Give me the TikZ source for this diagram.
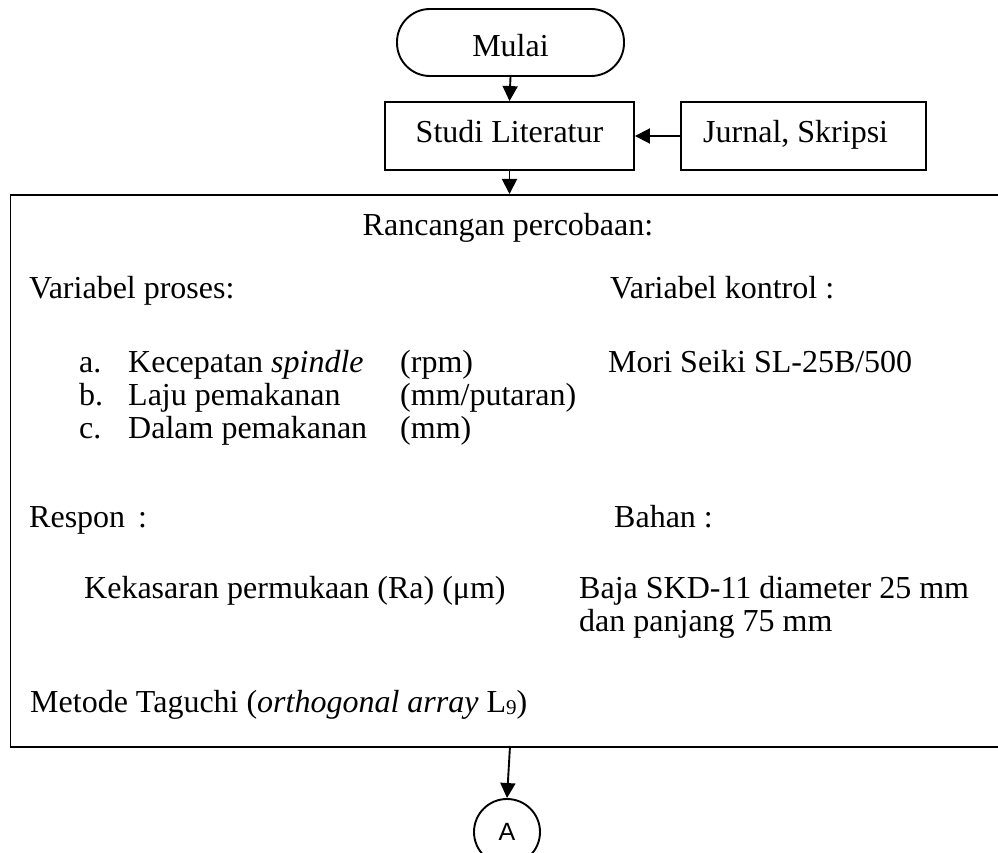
\documentclass[tikz,border=0pt]{standalone}
\usepackage{fontspec}
\setmainfont{Liberation Serif}
\newfontfamily\sansA{Liberation Sans}
\usetikzlibrary{arrows.meta}
\begin{document}
\begin{tikzpicture}[x=1pt,y=-1pt,
  box/.style={draw, line width=1.9pt, inner sep=0pt},
  txt/.style={anchor=base west, inner sep=0pt, font=\fontsize{32}{38}\selectfont},
  ctxt/.style={anchor=base, inner sep=0pt, font=\fontsize{32}{38}\selectfont},
  arr/.style={line width=1.9pt, -{Triangle[length=15pt,width=15pt]}}]
\useasboundingbox (0,0) rectangle (998,853);
% flow boxes
\node[box, rounded corners=33pt, minimum width=227pt, minimum height=67pt] (mulai) at (510.5,42.5) {};
\node[ctxt] (mulaiT) at (510.5,57) {Mulai};
\node[box, minimum width=249pt, minimum height=68pt] (studi) at (509.5,136) {};
\node[ctxt] (studiT) at (509.5,143) {Studi Literatur};
\node[box, minimum width=245pt, minimum height=68pt] (jurnal) at (803.5,136) {};
\node[txt] (jurnalT) at (703,143) {Jurnal, Skripsi};
\node[box, anchor=north west, minimum width=1010pt, minimum height=552pt] (design) at (9.5,194) {};
\node[circle, draw, line width=1.9pt, minimum size=66pt, inner sep=0pt, font=\sansA\fontsize{25}{30}\selectfont] (A) at (507,832) {A};
% connectors
\draw[arr] (mulai.south) -- (studi.north);
\draw[arr] (jurnal.west) -- (studi.east);
\draw[arr] (studi.south) -- (studi.south |- design.north);
\coordinate (dout) at (510,746);
\draw[arr] (dout) -- (A.north);
% design text
\node[ctxt] (t1) at (508,235) {Rancangan percobaan:};
\node[txt] (t2) at (29,298) {Variabel proses:};
\node[txt] (t3) at (610,298) {Variabel kontrol :};
\node[txt] (a1) at (79,372) {a.};
\node[txt] (a2) at (128,372) {Kecepatan \textit{spindle}};
\node[txt] (a3) at (400,372) {(rpm)};
\node[txt] (a4) at (608,372) {Mori Seiki SL-25B/500};
\node[txt] (b1) at (79,405) {b.};
\node[txt] (b2) at (128,405) {Laju pemakanan};
\node[txt] (b3) at (400,405) {(mm/putaran)};
\node[txt] (c1) at (79,438) {c.};
\node[txt] (c2) at (128,438) {Dalam pemakanan};
\node[txt] (c3) at (400,438) {(mm)};
\node[txt] (r1) at (29,527) {Respon\hspace{13pt}:};
\node[txt] (r2) at (614,527) {Bahan :};
\node[txt] (k1) at (84,598) {Kekasaran permukaan (Ra) (μm)};
\node[txt] (k2) at (579,598) {Baja SKD-11 diameter 25 mm};
\node[txt] (k3) at (579,631) {dan panjang 75 mm};
\node[txt] (m1) at (30,712) {Metode Taguchi (\textit{orthogonal array} L{\fontsize{21}{21}\selectfont\raisebox{-2pt}{9}})};
\end{tikzpicture}
\end{document}
